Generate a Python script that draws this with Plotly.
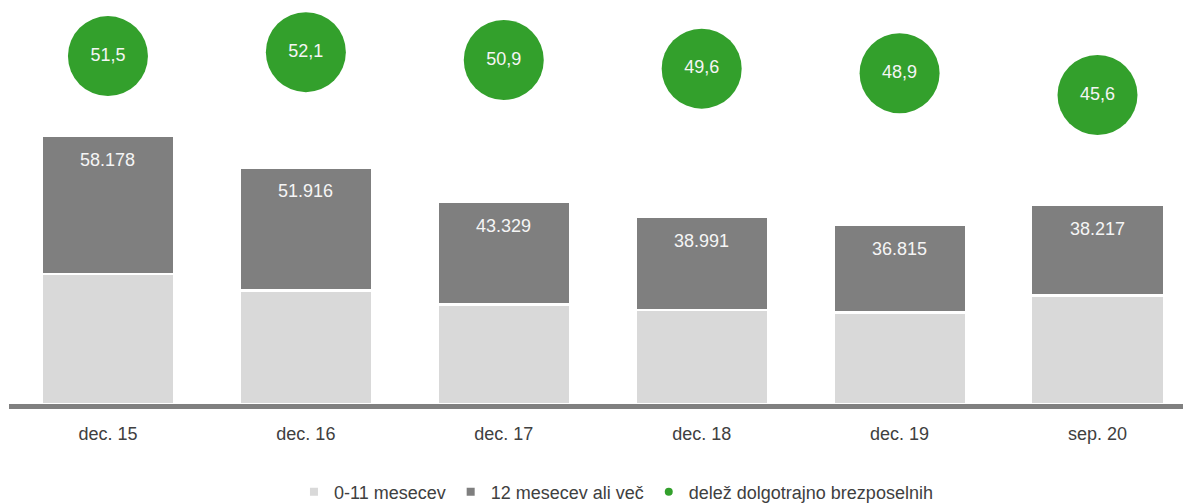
import plotly.graph_objects as go

categories = ["dec. 15", "dec. 16", "dec. 17", "dec. 18", "dec. 19", "sep. 20"]
short_term = [54800, 47700, 41800, 39600, 38500, 45600]   # 0-11 mesecev
long_term = [58178, 51916, 43329, 38991, 36815, 38217]    # 12 mesecev ali več
share_long = [51.5, 52.1, 50.9, 49.6, 48.9, 45.6]         # delež dolgotrajno brezposelnih

LIGHT = "#d9d9d9"
DARK = "#7f7f7f"
GREEN = "#33a02c"
TXT = "#404040"
FONT = "Liberation Sans, Arial, sans-serif"

fig = go.Figure()

fig.add_trace(go.Bar(
    x=categories, y=short_term, name="0-11 mesecev",
    marker=dict(color=LIGHT, line=dict(color="white", width=2.5)),
    showlegend=False, hoverinfo="skip"))
fig.add_trace(go.Bar(
    x=categories, y=long_term, name="12 mesecev ali več",
    marker=dict(color=DARK, line=dict(color="white", width=2.5)),
    showlegend=False, hoverinfo="skip"))

fig.add_trace(go.Scatter(
    x=categories, y=share_long, yaxis="y2", mode="markers+text",
    marker=dict(size=80, color=GREEN),
    text=[f"{v:.1f}".replace(".", ",") for v in share_long],
    textposition="middle center",
    textfont=dict(color="#f5f5f5", size=18, family=FONT),
    showlegend=False, hoverinfo="skip", cliponaxis=False))

# legend entries
for name, sym, col in [("0-11 mesecev", "square", LIGHT),
                       ("12 mesecev ali več", "square", DARK),
                       ("delež dolgotrajno brezposelnih", "circle", GREEN)]:
    fig.add_trace(go.Scatter(
        x=[None], y=[None], mode="markers", name=name,
        marker=dict(symbol=sym, size=8, color=col), showlegend=True))

# labels on long-term segments
for c, s, l in zip(categories, short_term, long_term):
    fig.add_annotation(
        x=c, y=s + l, yref="y", text=f"{l:,}".replace(",", "."),
        showarrow=False, yshift=-24, yanchor="middle",
        font=dict(color="#f5f5f5", size=18, family=FONT))

fig.update_layout(
    width=1183, height=504,
    margin=dict(l=9, r=0, t=0, b=100, autoexpand=False),
    paper_bgcolor="white", plot_bgcolor="white",
    barmode="stack", bargap=0.33,
    font=dict(family=FONT, size=18, color=TXT),
    xaxis=dict(range=[-0.5, 5.432], showline=True, linecolor="#808080",
               linewidth=5, ticks="", showgrid=False, zeroline=False,
               ticklabelstandoff=9, automargin=False,
               tickfont=dict(size=18, color=TXT)),
    yaxis=dict(range=[0, 170000], visible=False, showgrid=False),
    yaxis2=dict(range=[-1.2, 60], overlaying="y", visible=False, showgrid=False),
    legend=dict(orientation="h", x=0.517, xanchor="center",
                yref="container", y=0.0238, yanchor="middle",
                traceorder="normal",
                font=dict(size=18, color=TXT),
                bgcolor="rgba(0,0,0,0)"),
)

fig.write_html(
    "out.html",
    config={"displayModeBar": False},
    post_script="document.body.style.margin='0';document.body.style.overflow='hidden';",
)
